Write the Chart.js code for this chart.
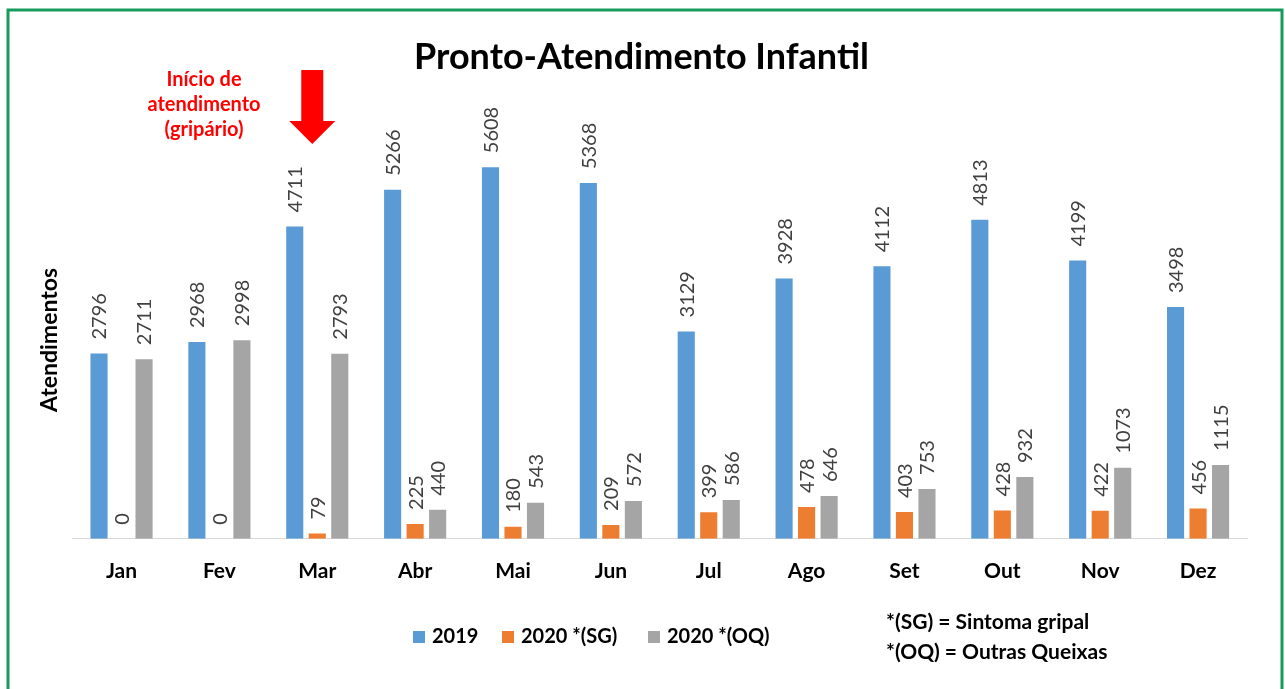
<!DOCTYPE html>
<html>
<head>
<meta charset="utf-8">
<script src="https://cdn.jsdelivr.net/npm/chart.js@4"></script>
<style>
  body { margin: 0; background: #fff; }
  #wrap { width: 1285px; height: 689px; position: relative; }
</style>
</head>
<body>
<div id="wrap"><canvas id="mychart"></canvas></div>
<script>
// dados
const meses = ['Jan', 'Fev', 'Mar', 'Abr', 'Mai', 'Jun', 'Jul', 'Ago', 'Set', 'Out', 'Nov', 'Dez'];
const atend2019 = [2796, 2968, 4711, 5266, 5608, 5368, 3129, 3928, 4112, 4813, 4199, 3498];
const atend2020SG = [0, 0, 79, 225, 180, 209, 399, 478, 403, 428, 422, 456];
const atend2020OQ = [2711, 2998, 2793, 440, 543, 572, 586, 646, 753, 932, 1073, 1115];
const nomesSeries = ['2019', '2020 *(SG)', '2020 *(OQ)'];
const cores = ['#5B9BD5', '#ED7D31', '#A5A5A5'];
const notas = ['*(SG) = Sintoma gripal', '*(OQ) = Outras Queixas'];

const fonte = 'Lato, "Open Sans", sans-serif';

// moldura verde + rotulos + seta + legenda
const extras = {
    id: 'extras',
    beforeDraw(chart) {
        const c = chart.ctx;
        c.save();
        c.fillStyle = '#fff';
        c.fillRect(0, 0, chart.width, chart.height);
        c.strokeStyle = '#169B5A';
        c.lineWidth = 3;
        c.strokeRect(8, 10, 1274, 700);
        c.restore();
    },
    afterDatasetsDraw(chart) {
        const c = chart.ctx;
        c.save();
        c.font = '20px ' + fonte;
        c.fillStyle = '#404040';
        c.textAlign = 'left';
        c.textBaseline = 'middle';
        chart.data.datasets.forEach((ds, i) => {
            chart.getDatasetMeta(i).data.forEach((bar, j) => {
                c.save();
                c.translate(bar.x + 1, bar.y - 14);
                c.rotate(-Math.PI / 2);
                c.fillText(String(ds.data[j]), 0, 0);
                c.restore();
            });
        });

        // anotacao
        const xMar = chart.scales.x.getPixelForValue(2) - 5;
        c.fillStyle = '#FF0000';
        c.beginPath();
        c.moveTo(xMar - 11, 70);
        c.lineTo(xMar + 11, 70);
        c.lineTo(xMar + 11, 121);
        c.lineTo(xMar + 23, 121);
        c.lineTo(xMar, 144);
        c.lineTo(xMar - 23, 121);
        c.lineTo(xMar - 11, 121);
        c.closePath();
        c.fill();
        c.font = 'bold 20px ' + fonte;
        c.textAlign = 'center';
        c.fillText('Início de', 204, 80);
        c.fillText('atendimento', 204, 105);
        c.fillText('(gripário)', 204, 130);

        // legenda
        c.font = 'bold 20px ' + fonte;
        c.textAlign = 'left';
        const legX = [413, 502, 648];
        nomesSeries.forEach((n, i) => {
            c.fillStyle = cores[i];
            c.fillRect(legX[i], 631, 12, 12);
            c.fillStyle = '#000';
            c.fillText(n, legX[i] + 19, 637);
        });
        c.font = 'bold 21px ' + fonte;
        c.fillText(notas[0], 886, 622);
        c.fillText(notas[1], 886, 652);
        c.restore();
    }
};

const ctx = document.getElementById('mychart');

const mychart = new Chart(ctx, {
    type: 'bar',
    data: {
        labels: meses,
        datasets: [
            { label: nomesSeries[0], data: atend2019, backgroundColor: cores[0] },
            { label: nomesSeries[1], data: atend2020SG, backgroundColor: cores[1] },
            { label: nomesSeries[2], data: atend2020OQ, backgroundColor: cores[2] }
        ]
    },
    options: {
        responsive: true,
        maintainAspectRatio: false,
        animation: false,
        datasets: {
            bar: { categoryPercentage: 0.69, barPercentage: 0.76 }
        },
        layout: { padding: { left: 36, right: 38, top: 0, bottom: 93 } },
        plugins: {
            legend: { display: false },
            tooltip: { enabled: false },
            title: {
                display: true,
                text: 'Pronto-Atendimento Infantil',
                color: '#000',
                font: { family: fonte, size: 36, weight: 'bold' },
                padding: { top: 36, bottom: 62 }
            }
        },
        scales: {
            x: {
                grid: { display: false },
                border: { display: true, color: '#D9D9D9', width: 1 },
                ticks: { color: '#000', font: { family: fonte, size: 21, weight: 'bold' }, padding: 12 }
            },
            y: {
                min: 0,
                max: 6000,
                grid: { display: false },
                border: { display: false },
                ticks: { display: false },
                title: {
                    display: true,
                    text: 'Atendimentos',
                    color: '#000',
                    padding: { top: 0, bottom: 1 },
                    font: { family: fonte, size: 23, weight: 'bold' }
                }
            }
        }
    },
    plugins: [extras]
});
</script>
</body>
</html>
